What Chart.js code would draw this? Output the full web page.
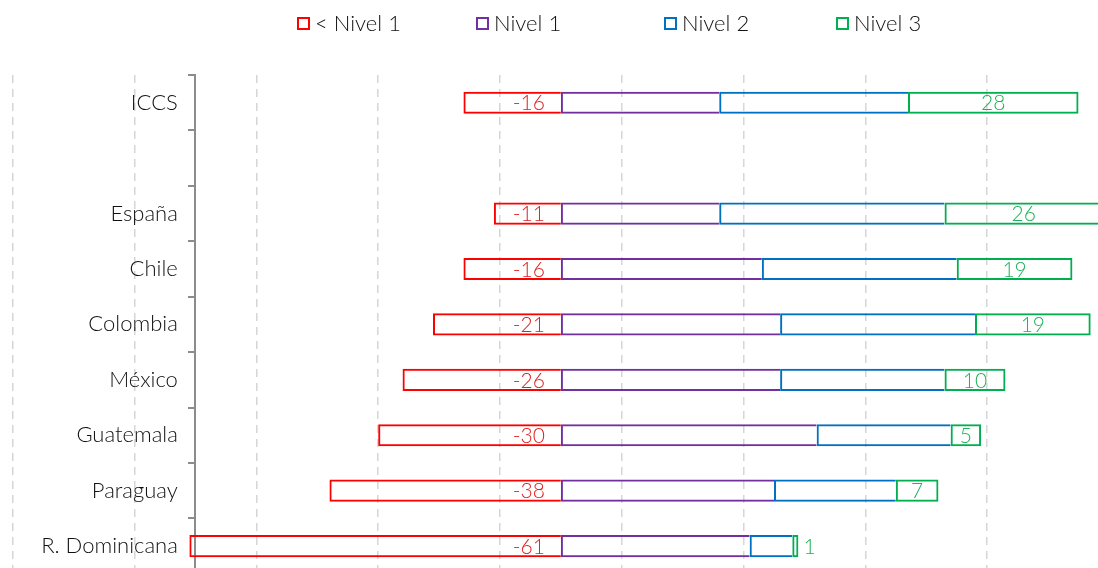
<!DOCTYPE html>
<html>
<head>
<meta charset="utf-8">
<script src="https://cdn.jsdelivr.net/npm/chart.js@4.4.1/dist/chart.umd.min.js"></script>
<style>
  html, body { margin: 0; padding: 0; overflow: hidden; background: #fff; }
  #wrap { position: relative; width: 1098px; height: 568px; overflow: hidden; }
  #legend { position: absolute; top: 0; left: 0; width: 1098px; height: 50px;
            font-family: Lato, sans-serif; font-weight: 300; font-size: 22px; color: #111; }
  .item { position: absolute; top: 11px; height: 24px; line-height: 24px;
          display: flex; align-items: center; white-space: nowrap; }
  .box { width: 9px; height: 9px; border: 2px solid; margin-right: 5px; }
</style>
</head>
<body>
<div id="wrap">
  <canvas id="myChart" width="1098" height="590"></canvas>
  <div id="legend"></div>
</div>
<script>
const categories = ['ICCS', '', 'España', 'Chile', 'Colombia', 'México', 'Guatemala', 'Paraguay', 'R. Dominicana'];
const seriesNames = ['< Nivel 1', 'Nivel 1', 'Nivel 2', 'Nivel 3'];
const belowLevel1 = [-16, null, -11, -16, -21, -26, -30, -38, -61];
const level1 = [26, null, 26, 33, 36, 36, 42, 35, 31];
const level2 = [31, null, 37, 32, 32, 27, 22, 20, 7];
const level3 = [28, null, 26, 19, 19, 10, 5, 7, 1];
const gridTicks = [-90, -70, -50, -30, -10, 10, 30, 50, 70];

const colors = ['#ff0000', '#7030a0', '#0070c0', '#00b050'];
const labelColors = ['#dd2222', '#7030a0', '#0070c0', '#1fb25a'];
const legendLeft = [297, 476, 664, 836];
const axisAt = -60;       // where the category axis crosses
const labelAt = -62.9;    // right edge of the category names

// legend (html, so the items can sit where the original has them)
const legend = document.getElementById('legend');
seriesNames.forEach((name, i) => {
  const item = document.createElement('div');
  item.className = 'item';
  item.style.left = legendLeft[i] + 'px';
  const box = document.createElement('span');
  box.className = 'box';
  box.style.borderColor = colors[i];
  const txt = document.createElement('span');
  txt.textContent = name;
  item.appendChild(box);
  item.appendChild(txt);
  legend.appendChild(item);
});

const barLabels = {
  id: 'barLabels',
  afterDatasetsDraw(chart) {
    const ctx = chart.ctx;
    ctx.save();
    ctx.font = '300 21px Lato';
    ctx.textBaseline = 'middle';
    // < Nivel 1 : right aligned near zero
    chart.getDatasetMeta(0).data.forEach((bar, i) => {
      if (belowLevel1[i] == null) return;
      ctx.fillStyle = labelColors[0];
      ctx.textAlign = 'right';
      ctx.fillText(String(belowLevel1[i]), bar.base - 16, bar.y + 1);
    });
    // Nivel 3 : centered, or just outside when the bar is too thin
    chart.getDatasetMeta(3).data.forEach((bar, i) => {
      if (level3[i] == null) return;
      const text = String(level3[i]);
      const w = Math.abs(bar.x - bar.base);
      const tw = ctx.measureText(text).width;
      ctx.fillStyle = labelColors[3];
      if (tw + 6 < w) {
        ctx.textAlign = 'center';
        ctx.fillText(text, (bar.x + bar.base) / 2, bar.y + 1);
      } else {
        ctx.textAlign = 'left';
        ctx.fillText(text, bar.x + 5, bar.y + 1);
      }
    });
    ctx.restore();
  }
};

const ctx = document.getElementById('myChart').getContext('2d');
const myChart = new Chart(ctx, {
  type: 'bar',
  data: {
    labels: categories,
    datasets: [
      { label: seriesNames[0], data: belowLevel1, borderSkipped: 'start' },
      { label: seriesNames[1], data: level1, borderSkipped: 'right' },
      { label: seriesNames[2], data: level2, borderSkipped: 'right' },
      { label: seriesNames[3], data: level3, borderSkipped: false }
    ].map((d, i) => Object.assign(d, {
      backgroundColor: 'rgba(0,0,0,0)',
      borderColor: colors[i],
      borderWidth: 2,
      barPercentage: 0.4,
      categoryPercentage: 1
    }))
  },
  options: {
    responsive: false,
    animation: false,
    indexAxis: 'y',
    layout: { padding: { top: 75, left: 0, right: 0, bottom: 0 } },
    plugins: {
      legend: { display: false },
      tooltip: { enabled: false }
    },
    scales: {
      x: {
        stacked: true,
        min: -92.1,
        max: 88.2,
        afterBuildTicks: (axis) => { axis.ticks = gridTicks.map(v => ({ value: v })); },
        ticks: { display: false },
        border: { display: false, dash: [8, 6] },
        grid: { color: '#d6d6d6', lineWidth: 1.5, drawTicks: false }
      },
      y: {
        stacked: true,
        position: { x: labelAt },
        ticks: { color: '#111', font: { family: 'Lato', size: 22, weight: '300' } },
        grid: { display: false },
        border: { display: false }
      },
      yAxisLine: {
        type: 'category',
        axis: 'y',
        labels: categories,
        offset: true,
        position: { x: axisAt },
        ticks: { display: false },
        grid: { drawOnChartArea: false, offset: true, tickLength: 6, color: '#8c8c8c', lineWidth: 2 },
        border: { color: '#8c8c8c', width: 2 }
      }
    }
  },
  plugins: [barLabels]
});
</script>
</body>
</html>
